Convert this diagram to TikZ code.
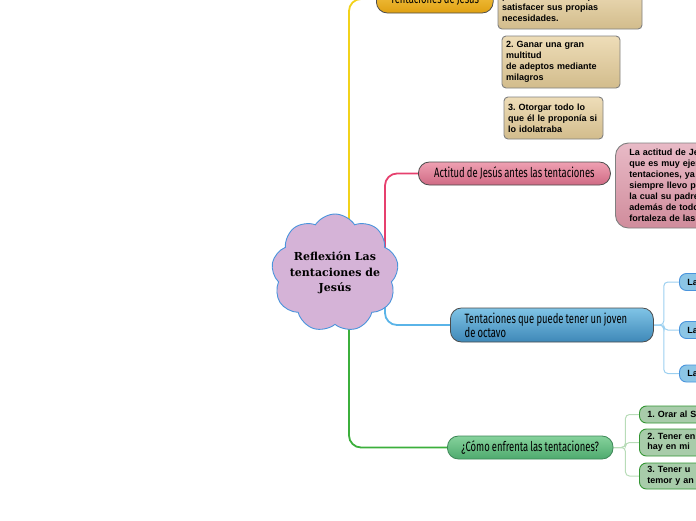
\documentclass[tikz,border=0pt]{standalone}
\usepackage{fontspec}
\setmainfont{Liberation Sans}
\newfontfamily\branchfont[FakeStretch=0.7,WordSpace=0.85]{Fira Sans}
\newfontfamily\titlefont{DejaVu Serif}
\usetikzlibrary{shapes.symbols,backgrounds}

\definecolor{cloudfill}{HTML}{D5B3D7}
\definecolor{cloudline}{HTML}{4A94DC}
\definecolor{yline}{HTML}{F2D21B}
\definecolor{pline}{HTML}{E6406E}
\definecolor{bline}{HTML}{5AB4E8}
\definecolor{gline}{HTML}{3CAF3C}
\definecolor{gsub}{HTML}{B8DCB8}
\definecolor{bsub}{HTML}{9CD0F0}
\definecolor{goldA}{HTML}{F9CC52}
\definecolor{goldB}{HTML}{DFA011}
\definecolor{tanA}{HTML}{EEDDB8}
\definecolor{tanB}{HTML}{D2BC8C}
\definecolor{pinkA}{HTML}{EFA0B2}
\definecolor{pinkB}{HTML}{CF6A84}
\definecolor{pdescA}{HTML}{E8BAC6}
\definecolor{pdescB}{HTML}{D08C9C}
\definecolor{blueA}{HTML}{80C4E6}
\definecolor{blueB}{HTML}{3E88B8}
\definecolor{lblue}{HTML}{8CC6E6}
\definecolor{greenA}{HTML}{86D29C}
\definecolor{greenB}{HTML}{4EAA6E}
\definecolor{lgreen}{HTML}{A8CCAA}

\begin{document}
\frenchspacing
\begin{tikzpicture}[x=1pt, y=-1pt,
  every node/.style={inner sep=0pt},
  topic/.style={rounded corners=11pt, draw=gray!60!black, line width=0.8pt,
    font=\branchfont\fontsize{13.5}{12}\selectfont, anchor=west, align=left,
    inner xsep=14pt},
  note/.style={rounded corners=4pt, draw=gray, line width=0.9pt,
    top color=tanA, bottom color=tanB, font=\bfseries\fontsize{9}{10.8}\selectfont,
    align=left, inner xsep=4pt},
  leaf/.style={rounded corners=7pt, line width=0.9pt, anchor=west, align=left,
    font=\bfseries\fontsize{9}{10.5}\selectfont, inner xsep=8pt, text width=60pt},
  trunk/.style={line width=1.8pt, rounded corners=12pt},
  twig/.style={line width=1pt, rounded corners=4pt}]
  \useasboundingbox (0,0) rectangle (696,520);
  \clip (0,0) rectangle (696,520);

  % centre
  \node[cloud, cloud puffs=9, cloud puff arc=115, aspect=1.05, draw=cloudline,
    fill=cloudfill, line width=0.9pt, minimum width=127pt, minimum height=118pt]
    (cloud) at (335,273) {};
  \node[font=\titlefont\bfseries\fontsize{11}{15.5}\selectfont, align=center]
    (titulo) at (cloud.center) {Reflexión Las\\tentaciones de\\Jesús};

  % yellow: las tentaciones
  \node[topic, top color=goldA, bottom color=goldB, minimum width=115pt,
    minimum height=28pt] (jesus) at (376,-1) {Tentaciones de Jesús};
  \node[note, minimum width=144pt, minimum height=43pt, text width=136pt]
    (poder) at (570,7.5) {poder sobrenatural para\\satisfacer sus propias\\necesidades.};
  \node[note, minimum width=118pt, minimum height=52pt, text width=110pt]
    (adeptos) at (561,62) {2. Ganar una gran\\multitud\\de adeptos mediante\\milagros};
  \node[note, minimum width=99pt, minimum height=42pt, text width=91pt]
    (otorgar) at (553.5,118) {3. Otorgar todo lo\\que él le proponía si\\lo idolatraba};

  % pink: actitud
  \node[topic, top color=pinkA, bottom color=pinkB, minimum width=192pt,
    minimum height=23pt] (actitud) at (418,173.5) {Actitud de Jesús antes las tentaciones};
  \node[note, rounded corners=13pt, top color=pdescA, bottom color=pdescB,
    anchor=west, inner xsep=14pt, text width=90pt, minimum height=85pt,
    font=\bfseries\fontsize{9}{11}\selectfont]
    (ejemplo) at (615,185.5) {La actitud de Je\\que es muy ejer\\tentaciones, ya\\siempre llevo p\\la cual su padre\\además de todo\\fortaleza de las};

  % blue: joven
  \node[topic, top color=blueA, bottom color=blueB, minimum width=203pt,
    minimum height=34pt] (joven) at (450,325)
    {Tentaciones que puede tener un joven\hspace*{12pt}\\de octavo};
  \node[leaf, fill=lblue, draw=cloudline, minimum height=17pt] (la1) at (679,282) {La};
  \node[leaf, fill=lblue, draw=cloudline, minimum height=17pt] (la2) at (679,330) {La};
  \node[leaf, fill=lblue, draw=cloudline, minimum height=17pt] (la3) at (679,373.5) {La};

  % green: enfrentar
  \node[topic, top color=greenA, bottom color=greenB, draw=greenB!80!black,
    minimum width=165pt, minimum height=23pt] (enfrenta) at (447,447.5)
    {¿Cómo enfrenta las tentaciones?};
  \node[leaf, fill=lgreen, draw=gline!85!black, minimum height=17pt] (orar) at (639,414.5) {1. Orar al S};
  \node[leaf, fill=lgreen, draw=gline!85!black, minimum height=27pt] (tener1) at (639,442.5) {2. Tener en\\hay en mi};
  \node[leaf, fill=lgreen, draw=gline!85!black, minimum height=26pt] (tener2) at (639,476) {3. Tener u\\temor y an};

  % connectors
  \begin{pgfonlayer}{background}
    \draw[trunk, yline] ([xshift=14pt]cloud.center) |- (jesus.west);
    \draw[trunk, pline] ([xshift=50pt]cloud.center) |- (actitud.west);
    \draw[trunk, bline] ([xshift=50pt]cloud.center) |- (joven.west);
    \draw[trunk, gline] ([xshift=14pt]cloud.center) |- (enfrenta.west);
    \draw[twig, bsub] (joven.east) -- ++(10,0) |- (la1.west);
    \draw[twig, bsub] (joven.east) -- ++(10,0) |- (la2.west);
    \draw[twig, bsub] (joven.east) -- ++(10,0) |- (la3.west);
    \draw[twig, gsub] (enfrenta.east) -- ++(12,0) |- (orar.west);
    \draw[twig, gsub] (enfrenta.east) -- ++(12,0) |- (tener1.west);
    \draw[twig, gsub] (enfrenta.east) -- ++(12,0) |- (tener2.west);
  \end{pgfonlayer}
\end{tikzpicture}
\end{document}
